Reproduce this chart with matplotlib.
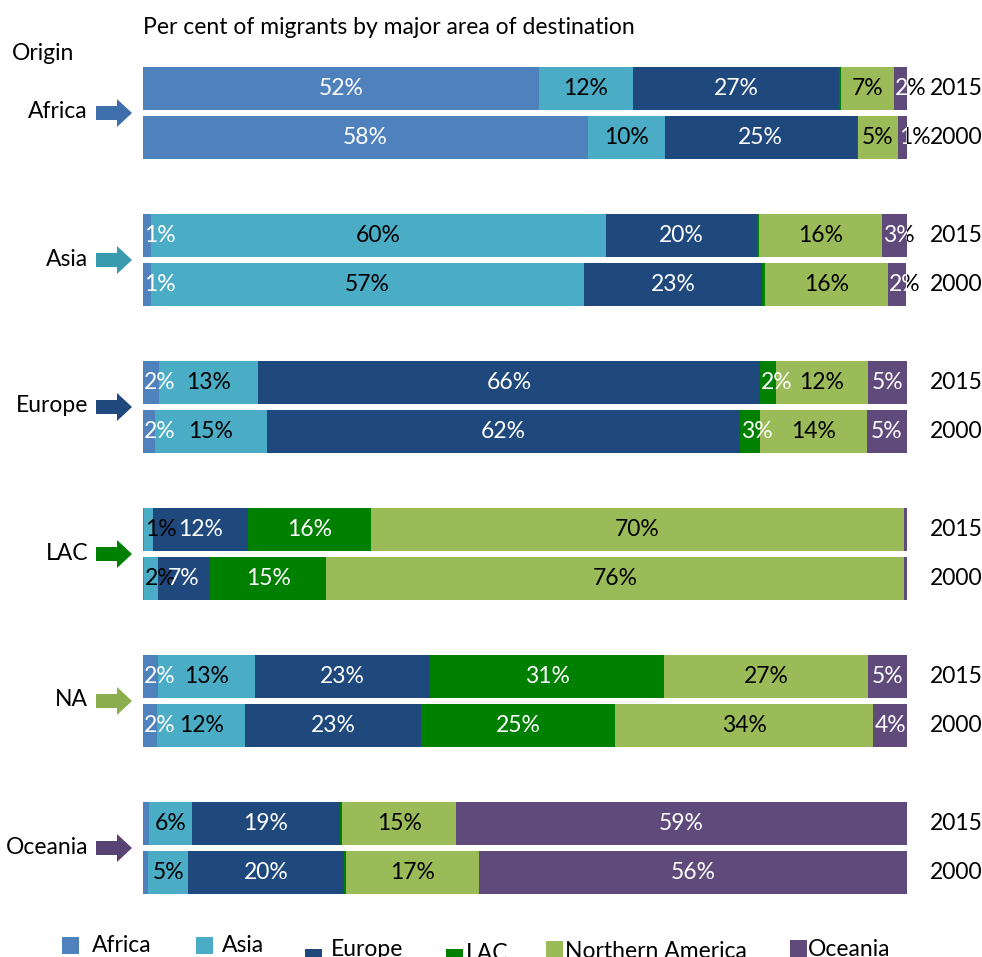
import matplotlib
matplotlib.use("Agg")
import matplotlib.pyplot as plt
from matplotlib.patches import Rectangle, Polygon
from matplotlib.transforms import Bbox, TransformedBbox

plt.rcParams['font.family'] = ['Lato', 'DejaVu Sans']

# ---------------- data ----------------
origins = ['Africa', 'Asia', 'Europe', 'LAC', 'NA', 'Oceania']
years = ['2015', '2000']
destinations = ['Africa', 'Asia', 'Europe', 'LAC', 'Northern America', 'Oceania']
title = 'Per cent of migrants by major area of destination'

# one value per bar: Africa-2015, Africa-2000, Asia-2015, Asia-2000, ...
dest_africa  = [51.8, 58.2, 1.0, 1.0, 2.1, 1.6, 0.1, 0.1, 2.0, 1.8, 0.8, 0.7]
dest_asia    = [12.3, 10.1, 59.6, 56.7, 13.0, 14.6, 1.2, 1.8, 12.7, 11.6, 5.6, 5.2]
dest_europe  = [27.0, 25.1, 19.8, 23.3, 65.6, 61.9, 12.4, 6.9, 22.9, 23.0, 19.4, 20.4]
dest_lac     = [0.2, 0.2, 0.2, 0.4, 2.1, 2.7, 16.1, 15.2, 30.6, 25.4, 0.3, 0.3]
dest_namer   = [7.0, 5.2, 16.1, 16.1, 12.1, 13.9, 69.8, 75.6, 26.7, 33.8, 14.9, 17.4]
dest_oceania = [1.7, 1.2, 3.3, 2.4, 5.1, 5.3, 0.4, 0.4, 5.1, 4.4, 59.0, 56.0]

series = [dest_africa, dest_asia, dest_europe, dest_lac, dest_namer, dest_oceania]
colors = ['#4F81BD', '#4BACC6', '#1F497D', '#008000', '#9BBB59', '#604A7B']
label_colors = ['white', 'black', 'white', 'white', 'black', 'white']
arrow_colors = ['#3E6FAA', '#3A9AB0', '#1F497D', '#008000', '#8DAE4F', '#584274']

# ---------------- layout (pixels) ----------------
W, H = 982, 957
FS = 16.5
fig = plt.figure(figsize=(W / 100, H / 100), dpi=100)
ax_top, ax_bot, ax_l, ax_r = 67, 894, 143, 907
ax = fig.add_axes([ax_l / W, 1 - ax_bot / H, (ax_r - ax_l) / W, (ax_bot - ax_top) / H])
ax.set_xlim(0, 100)
ax.set_ylim(ax_bot, ax_top)
ax.axis('off')

ov = fig.add_axes([0, 0, 1, 1], zorder=5)
ov.set_xlim(0, W)
ov.set_ylim(H, 0)
ov.axis('off')

bar_h = 43
group_pitch = 147
pair_pitch = 49

n = len(origins) * len(years)
ys = []
for g in range(len(origins)):
    for k in range(len(years)):
        ys.append(ax_top + bar_h / 2 + g * group_pitch + k * pair_pitch)

lefts = [0.0] * n
for si, vals in enumerate(series):
    ax.barh(ys, vals, left=lefts, height=bar_h, color=colors[si],
            edgecolor='none', zorder=2)
    for i, v in enumerate(vals):
        if v >= 1.0:
            txt = f'{round(v)}%'
            hw = 2.2 if len(txt) == 2 else 2.9
            x = max(lefts[i] + v / 2, lefts[i] + hw)
            if label_colors[si] == 'white':
                y0, y1 = ys[i] - bar_h / 2, ys[i] + bar_h / 2
                inside = TransformedBbox(Bbox([[0, y0], [100, y1]]), ax.transData)
                outside = TransformedBbox(Bbox([[100, y0], [140, y1]]), ax.transData)
                t1 = ax.text(x, ys[i], txt, ha='center', va='center',
                             fontsize=FS, color='white', zorder=4)
                t1.set_clip_on(True)
                t1.set_clip_box(inside)
                t2 = ax.text(x, ys[i], txt, ha='center', va='center',
                             fontsize=FS, color='black', zorder=4)
                t2.set_clip_on(True)
                t2.set_clip_box(outside)
            else:
                ax.text(x, ys[i], txt, ha='center', va='center',
                        fontsize=FS, color='black', zorder=4)
    lefts = [l + v for l, v in zip(lefts, vals)]

# year labels
for i, y in enumerate(ys):
    ov.text(930, y, years[i % 2], ha='left', va='center', fontsize=FS)

# origin labels and arrows
for g, name in enumerate(origins):
    cy = ax_top + bar_h + 3 + g * group_pitch
    ov.text(88, cy - 1, name, ha='right', va='center', fontsize=FS)
    pts = [(96, cy - 7), (117, cy - 7), (117, cy - 14), (132, cy),
           (117, cy + 14), (117, cy + 7), (96, cy + 7)]
    ov.add_patch(Polygon(pts, closed=True, facecolor=arrow_colors[g],
                         edgecolor='none'))

# titles
ov.text(143, 28, title, ha='left', va='center', fontsize=FS)
ov.text(12, 53, 'Origin', ha='left', va='center', fontsize=FS)

# legend (manual, as in the reference)
leg_sq_x = [62, 196, 305, 446, 546, 790]
leg_sq_y = [937, 937, 949, 949, 941, 940]
leg_tx_x = [92, 222, 331, 466, 565, 808]
leg_base = [952, 952, 956, 960, 958, 956]
for i, name in enumerate(destinations):
    ov.add_patch(Rectangle((leg_sq_x[i], leg_sq_y[i]), 17, 17,
                           facecolor=colors[i], edgecolor='none'))
    ov.text(leg_tx_x[i], leg_base[i], name, ha='left', va='baseline',
            fontsize=FS)

fig.savefig('out.png', dpi=100)
